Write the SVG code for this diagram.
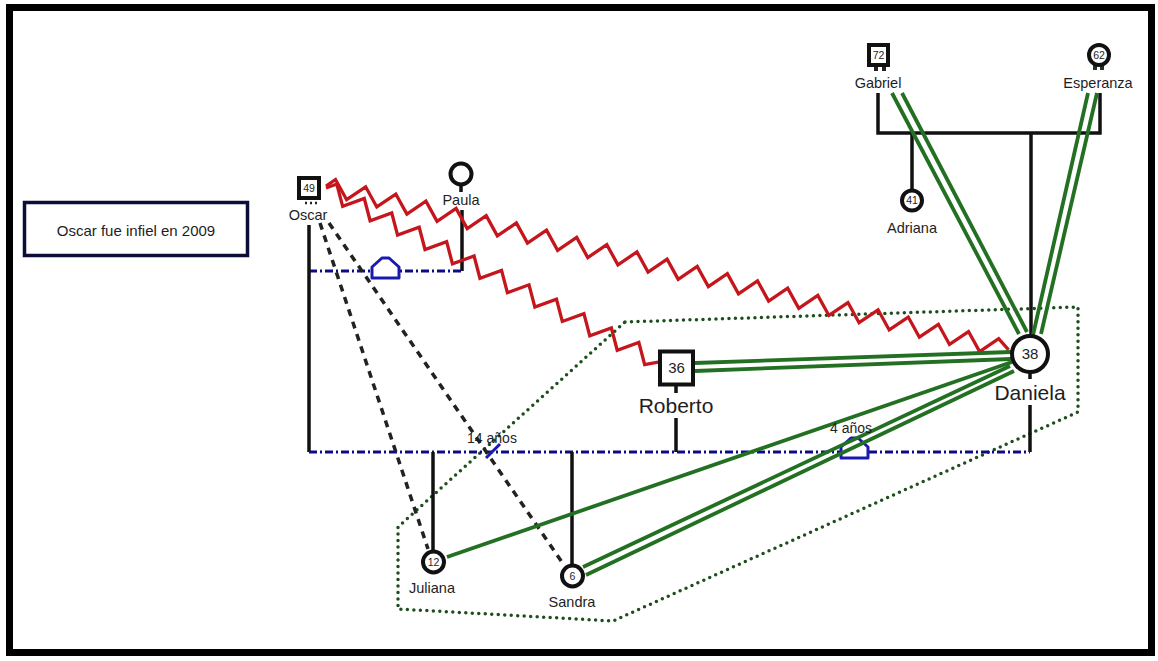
<svg xmlns="http://www.w3.org/2000/svg" width="1158" height="661" viewBox="0 0 1158 661">
  <defs>
    <style>
      .txt { font-family: "Liberation Sans", Arial, sans-serif; fill: #1e1e1e; text-anchor: middle; }
      .name { font-size: 14.5px; }
      .big { font-size: 21px; }
      .num { font-size: 10.5px; }
      .numbig { font-size: 15px; }
      .kin { stroke: #111; stroke-width: 3.5; fill: none; }
      .male { fill: #fff; stroke: #111; stroke-width: 4; }
      .female { fill: #fff; stroke: #111; stroke-width: 4; }
      .marriage { stroke: #0c0c86; stroke-width: 3; fill: none; stroke-dasharray: 8 3 2 3; }
      .house { stroke: #1a1ab0; stroke-width: 3; fill: #fff; stroke-linejoin: round; }
      .close { stroke: #237023; stroke-width: 3.8; fill: none; }
      .hostile { stroke: #c4161c; stroke-width: 3.3; fill: none; stroke-linejoin: miter; }
      .distant { stroke: #222; stroke-width: 3.5; fill: none; stroke-dasharray: 7 6; }
      .household { stroke: #1d4f1d; stroke-width: 3.5; fill: none; stroke-dasharray: 0 6.5; stroke-linecap: round; }
    </style>
  </defs>

  <rect width="1158" height="661" fill="#fff"/>
  <!-- outer frame -->
  <rect x="9.5" y="7.5" width="1142" height="645" fill="none" stroke="#000" stroke-width="7"/>

  <!-- legend note -->
  <g id="note">
    <rect x="24.5" y="202.5" width="223" height="53" fill="#fff" stroke="#0d0d3a" stroke-width="3.5"/>
    <text class="txt" x="136" y="236" font-size="15">Oscar fue infiel en 2009</text>
  </g>

  <!-- household boundary -->
  <g id="household">
    <polygon class="household" points="625,322 1078,307 1078,412 613,621 398,609 398,527"/>
  </g>

  <g id="connectors">
    <!-- parents of Daniela and Adriana -->
    <polyline class="kin" points="878,93 878,133 1100,133 1100,93"/>
    <line class="kin" x1="912" y1="133" x2="912" y2="190"/>
    <line class="kin" x1="1031" y1="133" x2="1031" y2="334"/>

    <!-- Oscar - Paula -->
    <line class="kin" x1="462" y1="210" x2="462" y2="271"/>
    <line class="marriage" x1="309" y1="271" x2="462" y2="271"/>
    <path class="house" d="M372,278 L372,267 L382,258 L389,258 L399,267 L399,278 Z"/>

    <!-- Oscar - Daniela -->
    <line class="kin" x1="309" y1="225" x2="309" y2="452"/>
    <line class="kin" x1="1030" y1="405" x2="1030" y2="452"/>
    <line class="kin" x1="676" y1="418" x2="676" y2="452"/>
    <line class="marriage" x1="309" y1="452" x2="1030" y2="452"/>
    <path class="house" d="M841,458 L841,447 L851,438 L858,438 L868,447 L868,458 Z"/>
    <line x1="486" y1="458" x2="500" y2="444" stroke="#1a1ab0" stroke-width="3"/>

    <!-- children -->
    <line class="kin" x1="433" y1="452" x2="433" y2="550"/>
    <line class="kin" x1="572" y1="452" x2="572" y2="564"/>

    <!-- distant ties -->
    <line class="distant" x1="320" y1="223" x2="428" y2="549" stroke-dasharray="6 6"/>
    <line class="distant" x1="329" y1="223" x2="564" y2="565" stroke-dasharray="8 6"/>

    <!-- hostile ties -->
    <polyline class="hostile" transform="translate(326,186) rotate(13.5)" points="0,0 7.75,-8.5 23.25,8.5 38.75,-8.5 54.25,8.5 69.75,-8.5 85.25,8.5 100.75,-8.5 116.25,8.5 131.75,-8.5 147.25,8.5 162.75,-8.5 178.25,8.5 193.75,-8.5 209.25,8.5 224.75,-8.5 240.25,8.5 255.75,-8.5 271.25,8.5 286.75,-8.5 302.25,8.5 317.75,-8.5 333.25,8.5 348.75,-8.5 364.25,8.5 379.75,-8.5 395.25,8.5 410.75,-8.5 426.25,8.5 441.75,-8.5 457.25,8.5 472.75,-8.5 488.25,8.5 503.75,-8.5 519.25,8.5 534.75,-8.5 550.25,8.5 565.75,-8.5 581.25,8.5 596.75,-8.5 612.25,8.5 627.75,-8.5 643.25,8.5 658.75,-8.5 674.25,8.5 689.75,-8.5 702,0"/>
    <polyline class="hostile" transform="translate(326,188) rotate(27.66)" points="0,0 7.75,-8.5 23.25,8.5 38.75,-8.5 54.25,8.5 69.75,-8.5 85.25,8.5 100.75,-8.5 116.25,8.5 131.75,-8.5 147.25,8.5 162.75,-8.5 178.25,8.5 193.75,-8.5 209.25,8.5 224.75,-8.5 240.25,8.5 255.75,-8.5 271.25,8.5 286.75,-8.5 302.25,8.5 317.75,-8.5 333.25,8.5 348.75,-8.5 364.25,8.5 375,0"/>

    <!-- close ties -->
    <line class="close" x1="892" y1="93" x2="1019" y2="334"/>
    <line class="close" x1="902" y1="93" x2="1027" y2="332"/>
    <line class="close" x1="1088" y1="93" x2="1033" y2="335"/>
    <line class="close" x1="1097" y1="93" x2="1041" y2="334"/>
    <line class="close" x1="695" y1="363" x2="1011" y2="352"/>
    <line class="close" x1="695" y1="371" x2="1011" y2="359"/>
    <line class="close" x1="447" y1="557" x2="1012" y2="362"/>
    <line class="close" x1="583" y1="567" x2="1010" y2="366"/>
    <line class="close" x1="586" y1="575" x2="1014" y2="371"/>
  </g>

  <g id="oscar">
    <rect class="male" x="299" y="178" width="20" height="20"/>
    <line x1="305" y1="203" x2="320" y2="203" stroke="#222" stroke-width="2.5" stroke-dasharray="2 3"/>
    <text class="txt num" x="309" y="191.8">49</text>
    <text class="txt name" x="308" y="220">Oscar</text>
  </g>

  <g id="paula">
    <line class="kin" x1="461" y1="185" x2="461" y2="192"/>
    <circle class="female" cx="461" cy="174" r="10.5"/>
    <text class="txt name" x="461" y="205">Paula</text>
  </g>

  <g id="gabriel">
    <rect x="874" y="67" width="4" height="4" fill="#222"/>
    <rect x="882" y="67" width="4" height="4" fill="#222"/>
    <rect class="male" x="869" y="45" width="19" height="20"/>
    <text class="txt num" x="878.5" y="58.8">72</text>
    <text class="txt name" x="878" y="88">Gabriel</text>
  </g>

  <g id="esperanza">
    <rect x="1093" y="65" width="4" height="5" fill="#223322"/>
    <rect x="1100" y="65" width="4" height="5" fill="#223322"/>
    <circle class="female" cx="1099" cy="55" r="10"/>
    <text class="txt num" x="1099" y="58.8">62</text>
    <text class="txt name" x="1098" y="88">Esperanza</text>
  </g>

  <g id="adriana">
    <circle class="female" cx="912" cy="200.5" r="10"/>
    <text class="txt num" x="912" y="204.3">41</text>
    <text class="txt name" x="912" y="233">Adriana</text>
  </g>

  <g id="roberto">
    <line class="kin" x1="676" y1="385" x2="676" y2="393"/>
    <rect class="male" x="660" y="351.5" width="33" height="33" stroke-width="4.5"/>
    <text class="txt numbig" x="676.5" y="373.3">36</text>
    <text class="txt big" x="676" y="413">Roberto</text>
  </g>

  <g id="daniela">
    <line class="kin" x1="1030" y1="372" x2="1030" y2="379"/>
    <circle class="female" cx="1030" cy="354" r="18" stroke-width="5"/>
    <text class="txt numbig" x="1030" y="359.3">38</text>
    <text class="txt big" x="1030" y="400">Daniela</text>
  </g>

  <g id="juliana">
    <circle class="female" cx="433.5" cy="562" r="10.5"/>
    <text class="txt num" x="433.5" y="565.8">12</text>
    <text class="txt name" x="432" y="593">Juliana</text>
  </g>

  <g id="sandra">
    <circle class="female" cx="572.5" cy="576" r="10.5"/>
    <text class="txt num" x="572.5" y="579.8">6</text>
    <text class="txt name" x="572" y="607">Sandra</text>
  </g>

  <g id="labels">
    <text class="txt" x="492" y="443" font-size="14">14 años</text>
    <text class="txt" x="851" y="433" font-size="14">4 años</text>
  </g>
</svg>
